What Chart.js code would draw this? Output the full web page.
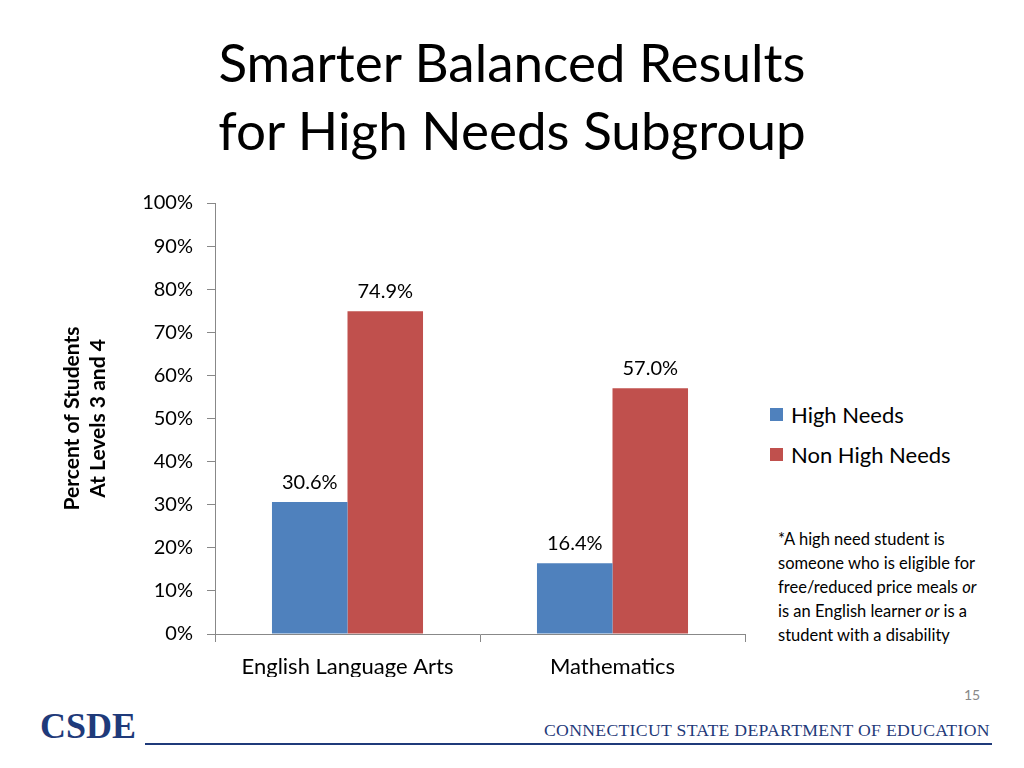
<!DOCTYPE html>
<html><head><meta charset="utf-8">
<script src="https://cdn.jsdelivr.net/npm/chart.js@4/dist/chart.umd.min.js"></script>
<style>
body{margin:0;width:1024px;height:768px;background:#fff;font-family:Lato,"Open Sans",sans-serif;position:relative;overflow:hidden}
.abs{position:absolute}
#title{left:0;width:1024px;top:28px;text-align:center;font-size:53px;line-height:68px;color:#000}
#wrap{left:60px;top:177px;width:700px;height:500px}
.leg{left:770px;font-size:22px;display:flex;align-items:center}
.sw{width:13px;height:13px;margin-right:8px;display:inline-block}
#note{left:778px;top:527px;font-size:16.5px;line-height:24px;white-space:nowrap}
#pg{left:964px;top:686px;font-size:14px;color:#888}
#foot{left:544px;top:720px;font-family:"Liberation Serif",serif;font-size:17.7px;color:#1F3A7A;letter-spacing:0.3px}
#line{left:145px;top:743px;width:847px;height:2px;background:#1F3A7A}
#logo{left:40px;top:705px;font-family:"Liberation Serif",serif;font-size:36px;font-weight:bold;color:#1F3A7A}
</style></head><body>
<div id="title" class="abs">Smarter Balanced Results<br>for High Needs Subgroup</div>
<div id="wrap" class="abs"><canvas id="c" width="700" height="500"></canvas></div>
<div id="legend"></div>
<div id="note" class="abs">*A high need student is<br>someone who is eligible for<br>free/reduced price meals <i>or</i><br>is an English learner <i>or</i> is a<br>student with a disability</div>
<div id="pg" class="abs">15</div>
<div id="logo" class="abs">CSDE</div>
<div id="foot" class="abs">CONNECTICUT STATE DEPARTMENT OF EDUCATION</div>
<div id="line" class="abs"></div>
<script>
const categories=["English Language Arts","Mathematics"];
const seriesNames=["High Needs","Non High Needs"];
const highNeeds=[30.6,16.4];
const nonHighNeeds=[74.9,57.0];
const colors=["#4F81BD","#C0504D"];
const leg=document.getElementById('legend');
seriesNames.forEach((n,i)=>{const d=document.createElement('div');d.className='abs leg';d.style.top=(401+i*40)+'px';d.innerHTML='<span class="sw" style="background:'+colors[i]+'"></span>'+n;leg.appendChild(d);});
const labelPlugin={id:'lbl',afterDatasetsDraw(ch){const ctx=ch.ctx;ctx.save();ctx.font='20px Lato, "Open Sans", sans-serif';ctx.fillStyle='#000';ctx.textAlign='center';ctx.textBaseline='bottom';
ch.data.datasets.forEach((ds,i)=>{ch.getDatasetMeta(i).data.forEach((b,j)=>{ctx.fillText(ds.data[j].toFixed(1)+'%',b.x,b.y-10);});});ctx.restore();}};
new Chart(document.getElementById('c'),{type:'bar',
data:{labels:categories,datasets:[
{label:seriesNames[0],data:highNeeds,backgroundColor:colors[0]},
{label:seriesNames[1],data:nonHighNeeds,backgroundColor:colors[1]}]},
options:{responsive:false,animation:false,layout:{padding:{top:19,right:15,bottom:0,left:0}},
datasets:{bar:{categoryPercentage:0.57,barPercentage:1}},
plugins:{legend:{display:false},tooltip:{enabled:false}},
scales:{
x:{grid:{drawOnChartArea:false,offset:true,tickLength:8,color:'#888'},border:{color:'#888'},
ticks:{color:'#000',font:{size:22,family:'Lato'},padding:12},
afterFit(s){s.height=43;}},
y:{min:0,max:100,grid:{drawOnChartArea:false,tickLength:8,color:'#888'},border:{color:'#888'},
ticks:{stepSize:10,color:'#000',font:{size:20,family:'Lato'},padding:14,callback:v=>v+'%'},
title:{display:true,text:["Percent of Students","At Levels 3 and 4"],font:{size:21,weight:'bold',family:'Lato'},color:'#000',padding:{top:0,bottom:0}},
afterFit(s){s.width=155;}}}},
plugins:[labelPlugin]});
</script></body></html>
